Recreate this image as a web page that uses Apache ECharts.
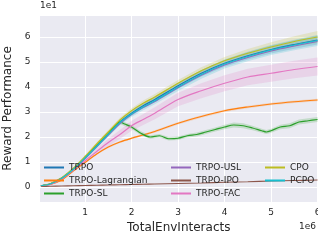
<!DOCTYPE html>
<html>
<head>
<meta charset="utf-8">
<script src="https://cdn.jsdelivr.net/npm/echarts@6/dist/echarts.min.js"></script>
<style>
  html, body { margin: 0; padding: 0; background: #fff; }
  #chart { width: 318px; height: 240px; }
</style>
</head>
<body>
<div id="chart"></div>
<script>
// x in units of 1e6 interactions, y in units of 1e1
const steps = [0.05, 0.25, 0.5, 0.75, 1, 1.25, 1.5, 1.75, 2, 2.25, 2.5, 3, 3.5, 4, 4.5, 5, 5.5, 6]
const trpo = [0.05, 0.12, 0.35, 0.72, 1.17, 1.65, 2.13, 2.6, 2.95, 3.25, 3.5, 4.05, 4.55, 4.95, 5.25, 5.5, 5.7, 5.88]
const cpo = [0.05, 0.13, 0.37, 0.75, 1.22, 1.72, 2.2, 2.68, 3.05, 3.35, 3.6, 4.15, 4.65, 5.05, 5.35, 5.6, 5.82, 6.0]
const pcpo = [0.05, 0.12, 0.35, 0.71, 1.16, 1.63, 2.11, 2.58, 2.92, 3.2, 3.45, 4.0, 4.5, 4.92, 5.22, 5.48, 5.68, 5.86]
const trpoUsl = [0.05, 0.12, 0.34, 0.7, 1.14, 1.61, 2.08, 2.54, 2.9, 3.18, 3.42, 3.97, 4.47, 4.88, 5.18, 5.44, 5.64, 5.82]
const trpoFac = [0.05, 0.1, 0.32, 0.68, 1.05, 1.42, 1.78, 2.1, 2.45, 2.7, 2.95, 3.5, 3.85, 4.15, 4.4, 4.55, 4.7, 4.82]
const trpoLag = [0.05, 0.1, 0.28, 0.65, 0.98, 1.32, 1.6, 1.8, 1.95, 2.08, 2.22, 2.55, 2.82, 3.05, 3.2, 3.32, 3.41, 3.48]
const trpoIpo = [0.02, 0.03, 0.04, 0.05, 0.06, 0.07, 0.08, 0.09, 0.1, 0.11, 0.12, 0.14, 0.16, 0.19, 0.21, 0.24, 0.26, 0.28]
const slSteps = [0.05, 0.25, 0.5, 0.75, 1, 1.25, 1.5, 1.75, 1.85, 2, 2.2, 2.4, 2.6, 2.8, 3.0, 3.2, 3.4, 3.6, 3.8, 4.0, 4.2, 4.4, 4.6, 4.8, 4.9, 5.0, 5.2, 5.4, 5.6, 5.8, 6.0]
const trpoSl = [0.05, 0.12, 0.35, 0.72, 1.17, 1.65, 2.13, 2.6, 2.52, 2.4, 2.15, 2.0, 2.05, 1.93, 1.95, 2.05, 2.1, 2.2, 2.3, 2.4, 2.48, 2.45, 2.36, 2.25, 2.2, 2.25, 2.4, 2.45, 2.6, 2.65, 2.7]

// half-width of the shaded bands (std)
const trpoSpread = [0.02, 0.03, 0.04, 0.05, 0.06, 0.07, 0.08, 0.09, 0.1, 0.1, 0.11, 0.12, 0.13, 0.14, 0.15, 0.16, 0.17, 0.18]
const cpoSpread = [0.02, 0.03, 0.04, 0.05, 0.06, 0.07, 0.08, 0.09, 0.1, 0.11, 0.12, 0.13, 0.14, 0.15, 0.17, 0.19, 0.21, 0.24]
const pcpoSpread = [0.02, 0.03, 0.05, 0.06, 0.07, 0.08, 0.1, 0.11, 0.12, 0.13, 0.14, 0.16, 0.17, 0.18, 0.19, 0.2, 0.21, 0.22]
const facSpread = [0.02, 0.04, 0.06, 0.08, 0.1, 0.12, 0.15, 0.18, 0.2, 0.22, 0.24, 0.27, 0.3, 0.32, 0.33, 0.34, 0.35, 0.36]
const lagSpread = [0.01, 0.02, 0.02, 0.03, 0.03, 0.03, 0.04, 0.04, 0.04, 0.04, 0.05, 0.05, 0.05, 0.05, 0.05, 0.05, 0.05, 0.05]
const slSpread = [0.01, 0.02, 0.03, 0.04, 0.05, 0.06, 0.07, 0.08, 0.08, 0.08, 0.08, 0.07, 0.07, 0.07, 0.07, 0.07, 0.08, 0.08, 0.08, 0.09, 0.1, 0.1, 0.09, 0.08, 0.08, 0.08, 0.09, 0.1, 0.1, 0.1, 0.1]

const ink = '#262626'
const font = 'DejaVu Sans'

const colors = {
  'TRPO': '#1f77b4',
  'TRPO-Lagrangian': '#ff7f0e',
  'TRPO-SL': '#2ca02c',
  'TRPO-USL': '#9467bd',
  'TRPO-IPO': '#8c564b',
  'TRPO-FAC': '#e377c2',
  'CPO': '#bcbd22',
  'PCPO': '#17becf'
}

// shaded std band as one polygon, drawn through the axes' scales
function band (name, xs, ys, spread, opacity) {
  const rows = xs.map((x, i) => [x, ys[i] - spread[i], ys[i] + spread[i]])
  return {
    name: name + ' band',
    type: 'custom',
    data: rows,
    z: 1,
    silent: true,
    renderItem (params, api) {
      if (params.dataIndex !== 0) return null
      const upper = rows.map(r => api.coord([r[0], r[2]]))
      const lower = rows.map(r => api.coord([r[0], r[1]])).reverse()
      return {
        type: 'polygon',
        shape: { points: upper.concat(lower) },
        style: { fill: colors[name], opacity: opacity }
      }
    },
    encode: { x: 0, y: [1, 2] }
  }
}

function line (name, xs, ys) {
  return {
    name: name,
    type: 'line',
    data: xs.map((x, i) => [x, ys[i]]),
    symbol: 'none',
    smooth: 0.3,
    color: colors[name],
    lineStyle: { width: 1.2, color: colors[name] },
    z: 3
  }
}

const series = [
  band('TRPO', steps, trpo, trpoSpread, 0.2),
  band('TRPO-Lagrangian', steps, trpoLag, lagSpread, 0.2),
  band('TRPO-SL', slSteps, trpoSl, slSpread, 0.2),
  band('TRPO-FAC', steps, trpoFac, facSpread, 0.2),
  band('CPO', steps, cpo, cpoSpread, 0.2),
  band('PCPO', steps, pcpo, pcpoSpread, 0.2),
  line('TRPO', steps, trpo),
  line('TRPO-Lagrangian', steps, trpoLag),
  line('TRPO-SL', slSteps, trpoSl),
  line('TRPO-USL', steps, trpoUsl),
  line('TRPO-IPO', steps, trpoIpo),
  line('TRPO-FAC', steps, trpoFac),
  line('CPO', steps, cpo),
  line('PCPO', steps, pcpo)
]

function legend (names, left) {
  return {
    data: names,
    orient: 'vertical',
    left: left,
    top: 156,
    itemGap: 0,
    itemWidth: 20,
    itemHeight: 2,
    icon: 'rect',
    textStyle: { fontFamily: font, fontSize: 9, color: ink, lineHeight: 13 }
  }
}

const chart = echarts.init(document.getElementById('chart'), null, { renderer: 'canvas' })
const option = {
  animation: false,
  backgroundColor: '#fff',
  grid: {
    left: 39.5, right: 0, top: 15, bottom: 38,
    containLabel: false, outerBoundsMode: 'none',
    show: true, backgroundColor: '#eaeaf2', borderWidth: 0
  },
  xAxis: {
    type: 'value',
    min: 0.02,
    max: 6.01,
    splitNumber: 6,
    axisLine: { show: false },
    axisTick: { show: false },
    splitLine: { lineStyle: { color: '#fff', width: 1 } },
    axisLabel: {
      fontFamily: font, fontSize: 9, color: ink, margin: 6,
      showMinLabel: false, showMaxLabel: false,
      formatter: v => (Math.abs(v - Math.round(v)) < 1e-6 ? String(Math.round(v)) : '')
    },
    name: 'TotalEnvInteracts',
    nameLocation: 'middle',
    nameGap: 17,
    nameTextStyle: { fontFamily: font, fontSize: 12, color: ink, verticalAlign: 'top' }
  },
  yAxis: {
    type: 'value',
    min: -0.6,
    max: 6.88,
    splitNumber: 7,
    axisLine: { show: false },
    axisTick: { show: false },
    splitLine: { lineStyle: { color: '#fff', width: 1 } },
    axisLabel: {
      fontFamily: font, fontSize: 9, color: ink, margin: 9,
      showMinLabel: false, showMaxLabel: false,
      formatter: v => (Math.abs(v - Math.round(v)) < 1e-6 ? String(Math.round(v)) : '')
    },
    name: 'Reward Performance',
    nameLocation: 'middle',
    nameRotate: 90,
    nameGap: 22,
    nameTextStyle: { fontFamily: font, fontSize: 12, color: ink }
  },
  legend: [
    legend(['TRPO', 'TRPO-Lagrangian', 'TRPO-SL'], 39),
    legend(['TRPO-USL', 'TRPO-IPO', 'TRPO-FAC'], 166),
    legend(['CPO', 'PCPO'], 260)
  ],
  graphic: [
    { type: 'text', left: 40, top: 1, style: { text: '1e1', fontFamily: font, fontSize: 9, fill: ink } },
    { type: 'text', right: 2, top: 222, style: { text: '1e6', fontFamily: font, fontSize: 9, fill: ink } }
  ],
  series: series
}
chart.setOption(option)
</script>
</body>
</html>
